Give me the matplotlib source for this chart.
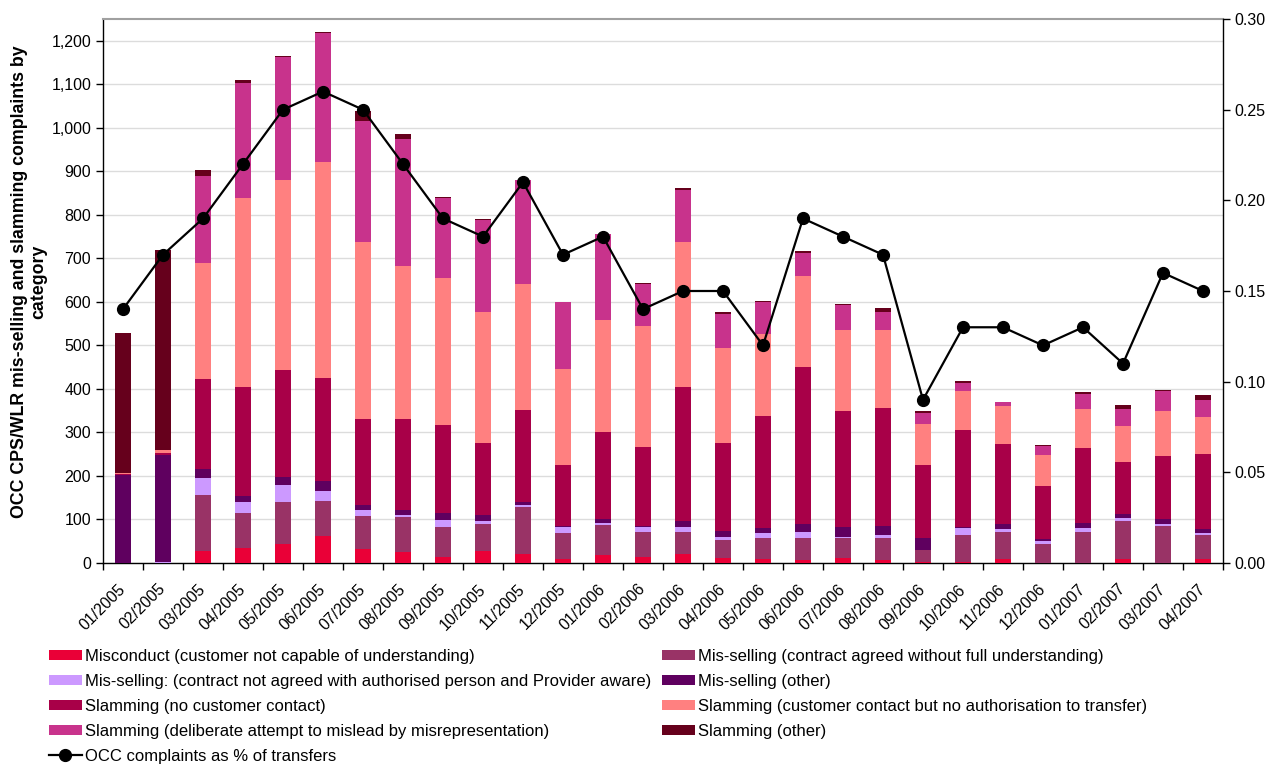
import numpy as np
import matplotlib
matplotlib.use("Agg")
import matplotlib.pyplot as plt
import matplotlib.transforms as mtransforms
from matplotlib.ticker import FuncFormatter, MultipleLocator
from matplotlib.lines import Line2D
from matplotlib.patches import Patch

plt.rcParams['font.family'] = ['Liberation Sans', 'DejaVu Sans']

months = ["01/2005", "02/2005", "03/2005", "04/2005", "05/2005", "06/2005", "07/2005",
          "08/2005", "09/2005", "10/2005", "11/2005", "12/2005", "01/2006", "02/2006",
          "03/2006", "04/2006", "05/2006", "06/2006", "07/2006", "08/2006", "09/2006",
          "10/2006", "11/2006", "12/2006", "01/2007", "02/2007", "03/2007", "04/2007"]

misconduct = [0, 0, 27, 35, 44, 62, 32, 25, 14, 27, 21, 9, 18, 14,
              21, 12, 9, 8, 12, 8, 2, 2, 10, 1, 1, 10, 1, 10]
mis_full = [0, 0, 129, 80, 96, 80, 76, 81, 69, 62, 108, 60, 69, 57,
            50, 41, 48, 49, 46, 50, 29, 63, 62, 43, 71, 87, 83, 55]
mis_not_agreed = [0, 3, 39, 25, 39, 23, 14, 4, 16, 7, 4, 14, 5, 12,
                  12, 7, 12, 14, 2, 7, 0, 16, 5, 7, 9, 7, 6, 5]
mis_other = [202, 245, 21, 14, 18, 23, 11, 12, 16, 14, 7, 2, 9, 2,
             13, 14, 11, 18, 22, 21, 27, 1, 13, 5, 12, 9, 10, 7]
slam_no_contact = [3, 4, 207, 251, 247, 237, 198, 209, 202, 166, 212, 140, 200, 182,
                   309, 202, 258, 362, 267, 270, 167, 224, 184, 121, 171, 119, 146, 174]
slam_contact = [2, 7, 267, 434, 436, 497, 407, 352, 338, 301, 289, 221, 258, 278,
                333, 218, 188, 209, 187, 180, 95, 89, 87, 71, 90, 83, 103, 85]
slam_deliberate = [0, 0, 200, 265, 282, 296, 278, 292, 184, 211, 238, 154, 197, 96,
                   119, 78, 74, 53, 57, 41, 25, 19, 9, 21, 35, 39, 46, 39]
slam_other = [322, 461, 13, 6, 2, 3, 23, 11, 2, 2, 1, 0, 1, 3,
              5, 5, 2, 4, 2, 9, 4, 4, 0, 2, 4, 9, 3, 11]
occ_pct = [0.14, 0.17, 0.19, 0.22, 0.25, 0.26, 0.25, 0.22, 0.19, 0.18, 0.21, 0.17, 0.18, 0.14,
           0.15, 0.15, 0.12, 0.19, 0.18, 0.17, 0.09, 0.13, 0.13, 0.12, 0.13, 0.11, 0.16, 0.15]

series = [
    ("Misconduct (customer not capable of understanding)", misconduct, "#EA0037"),
    ("Mis-selling (contract agreed without full understanding)", mis_full, "#993366"),
    ("Mis-selling: (contract not agreed with authorised person and Provider aware)", mis_not_agreed, "#CC99FF"),
    ("Mis-selling (other)", mis_other, "#5F005F"),
    ("Slamming (no customer contact)", slam_no_contact, "#A80048"),
    ("Slamming (customer contact but no authorisation to transfer)", slam_contact, "#FF8080"),
    ("Slamming (deliberate attempt to mislead by misrepresentation)", slam_deliberate, "#C8338C"),
    ("Slamming (other)", slam_other, "#66001C"),
]
line_label = "OCC complaints as % of transfers"

fig = plt.figure(figsize=(12.81, 7.65), dpi=100)
ax = fig.add_axes([103 / 1281, 1 - 563 / 765, (1223 - 103) / 1281, (563 - 19) / 765])

x = np.arange(len(months))
bottom = np.zeros(len(months))
handles = {}
for label, vals, color in series:
    vals = np.array(vals, dtype=float)
    ax.bar(x, vals, 0.42, bottom=bottom, color=color, linewidth=0, zorder=3)
    bottom += vals
    handles[label] = Patch(facecolor=color, edgecolor='none')

ax.set_xlim(-0.5, len(months) - 0.5)
ax.set_ylim(0, 1250)
ax.yaxis.set_major_locator(MultipleLocator(100))
ax.yaxis.set_major_formatter(FuncFormatter(lambda v, p: f"{int(v):,}"))
ax.grid(axis='y', color='#DCDCDC', linewidth=1, zorder=0)
ax.set_axisbelow(True)
ax.set_xticks(x)
ax.set_xticklabels(months, rotation=45, ha='right', va='center', rotation_mode='anchor', fontsize=11.5)
offset = mtransforms.ScaledTranslation(-6 / 100, 0, fig.dpi_scale_trans)
for lbl in ax.get_xticklabels():
    lbl.set_transform(lbl.get_transform() + offset)
ax.set_xticks(np.arange(len(months) + 1) - 0.5, minor=True)
ax.tick_params(axis='x', which='major', length=0, pad=17)
ax.tick_params(axis='x', which='minor', length=5, direction='out', width=1)
ax.tick_params(axis='y', length=5, direction='out', labelsize=11.5, width=1)
for s in ['left', 'bottom']:
    ax.spines[s].set_color('black')
    ax.spines[s].set_linewidth(1)
ax.spines['top'].set_color('#A0A0A0')
ax.spines['top'].set_linewidth(1.5)
ax.spines['right'].set_visible(False)

ax2 = ax.twinx()
ax2.plot(x, occ_pct, color='black', linewidth=1.6, marker='o', markersize=8.5, zorder=5)
ax2.set_ylim(0, 0.30)
ax2.yaxis.set_major_locator(MultipleLocator(0.05))
ax2.yaxis.set_major_formatter(FuncFormatter(lambda v, p: f"{v:.2f}"))
ax2.tick_params(axis='y', length=5, direction='out', labelsize=11.5, width=1)
ax2.spines['right'].set_color('black')
ax2.spines['right'].set_linewidth(1)
for s in ['top', 'left', 'bottom']:
    ax2.spines[s].set_visible(False)

fig.text(29 / 1281, 1 - 282 / 765,
         "OCC CPS/WLR mis-selling and slamming complaints by\ncategory",
         rotation=90, ha='center', va='center', multialignment='center',
         fontsize=12.8, fontweight='bold', linespacing=1.15)

line_handle = Line2D([0], [0], color='black', linewidth=1.6, marker='o', markersize=8.5)
labels = [s[0] for s in series]
col1 = [labels[0], labels[2], labels[4], labels[6]]
col2 = [labels[1], labels[3], labels[5], labels[7]]
h1 = [handles[l] for l in col1] + [line_handle]
l1 = col1 + [line_label]
h2 = [handles[l] for l in col2]

kw = dict(frameon=False, fontsize=12, handlelength=1.95, handleheight=0.6, handletextpad=0.2,
          labelspacing=0.6, borderpad=0, borderaxespad=0, loc='upper left')
leg1 = fig.legend(h1, l1, bbox_to_anchor=(49 / 1281, 1 - 649 / 765), **kw)
leg2 = fig.legend(h2, col2, bbox_to_anchor=(662 / 1281, 1 - 649 / 765), **kw)

fig.savefig("out.png", dpi=100)
